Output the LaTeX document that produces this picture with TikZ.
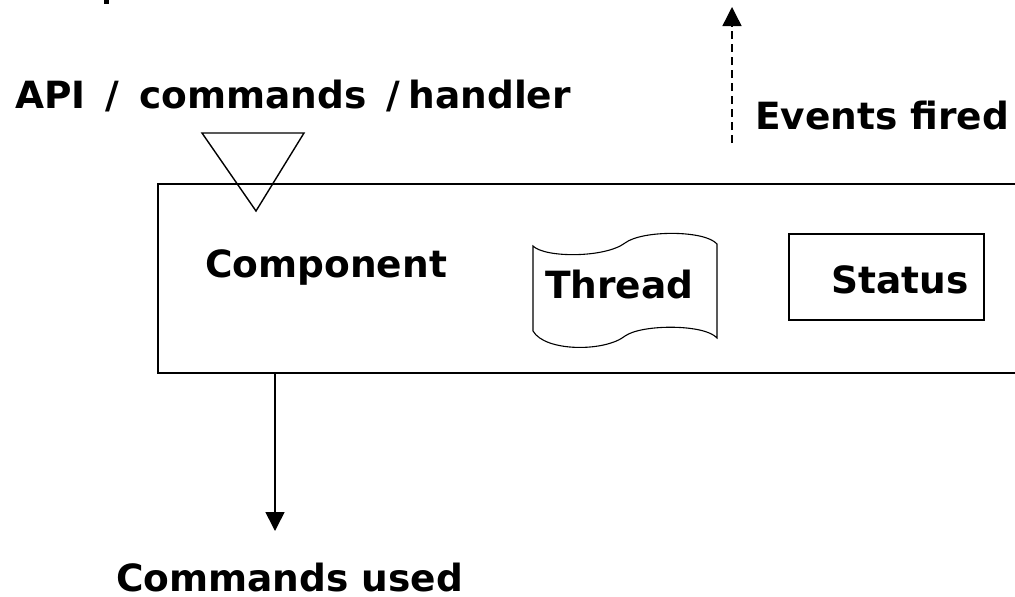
\documentclass[tikz,border=0pt]{standalone}
\usepackage{fontspec}
\setmainfont{DejaVu Sans}
\usetikzlibrary{arrows.meta}
\begin{document}
\begin{tikzpicture}[x=1pt,y=-1pt,
  lbl/.style={inner sep=0pt,anchor=base west,font=\bfseries\fontsize{37.5}{40}\selectfont},
  frame/.style={draw=black,line width=1.9pt},
  thin/.style={draw=black,line width=1.1pt},
  flow/.style={draw=black,line width=1.6pt,-{Triangle[length=19pt,width=19pt]}},
  evt/.style={draw=black,line width=1.4pt,dash pattern=on 8pt off 5pt,-{Triangle[length=19pt,width=19pt]}}]
\useasboundingbox (0,0) rectangle (1015,597);

% descender of a line of text above the frame
\fill (103.5,0) rectangle (109,4);

% labels
\node[lbl] (api) at (15,108) {API\kern7pt\ /\kern7pt\ commands\kern7pt\ /\kern8pt handler};
\node[lbl] (events) at (755,129) {Events fired};
\node[lbl] (comp) at (205,277) {Component};
\node[lbl,text depth=0pt] (cmds) at (116,591) {Commands used};

% component frame, open to the right
\coordinate (fTL) at (158,184);
\coordinate (fBL) at (158,373);
\coordinate (fTR) at (1016,184);
\coordinate (fBR) at (1016,373);
\draw[frame] (fTR) -- (fTL) -- (fBL) -- (fBR);

% API entry triangle
\coordinate (triL) at (202,133);
\coordinate (triR) at (304,133);
\coordinate (triA) at (256,211);
\draw[thin,line width=1.4pt,line join=miter] (triL) -- (triR) -- (triA) -- cycle;

% thread (punched tape symbol)
\draw[thin] (533,246) .. controls (545,258) and (605,258) .. (625,243)
  .. controls (642,230) and (705,230) .. (717,244) -- (717,338)
  .. controls (705,324) and (642,324) .. (625,336)
  .. controls (605,352) and (545,352) .. (533,331) -- cycle;
\node[lbl] (thread) at (545,298) {Thread};

% status box
\node[draw=black,line width=1.3pt,minimum width=195pt,minimum height=86pt,inner sep=0pt] (statusbox) at (886.5,277) {};
\node[lbl] (status) at (831,293) {Status};

% connectors
\coordinate (cmdsOut) at (275,373);
\coordinate (cmdsTip) at (275,531);
\draw[flow] (cmdsOut) -- (cmdsTip);
\coordinate (evtFrom) at (732,143);
\coordinate (evtTip) at (732,7);
\draw[evt] (evtFrom) -- (evtTip);
\end{tikzpicture}
\end{document}
